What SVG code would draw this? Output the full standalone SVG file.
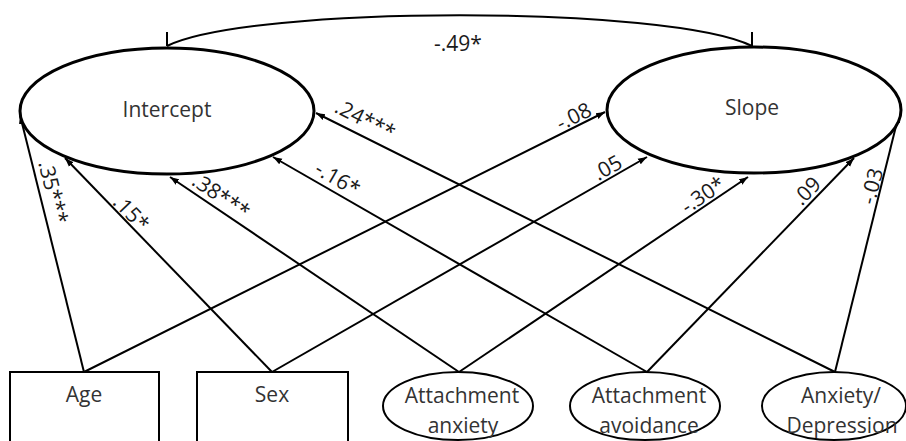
<svg xmlns="http://www.w3.org/2000/svg" width="906" height="441" viewBox="0 0 906 441">
<defs>
<marker id="ah" markerWidth="10" markerHeight="8" refX="9" refY="4" orient="auto" markerUnits="userSpaceOnUse">
<path d="M0,0.8 L9,4 L0,7.2 Z" fill="#000"/>
</marker>
<style>
.lat{fill:#fff;stroke:#000;stroke-width:3}
.obs{fill:#fff;stroke:#000;stroke-width:2}
.nt{font-family:"Open Sans","DejaVu Sans",sans-serif;font-size:21px;fill:#333;text-anchor:middle}
.lb{font-family:"Open Sans","DejaVu Sans",sans-serif;font-size:21px;fill:#1a1a1a;text-anchor:middle}
.c{fill:none;stroke:#000;stroke-width:2}
</style>
</defs>
<rect width="906" height="441" fill="#fff"/>
<g id="connectors">
<path class="c" d="M84,372 L20,115" marker-end="url(#ah)"/>
<path class="c" d="M84,372 L605,112" marker-end="url(#ah)"/>
<path class="c" d="M272,372 L65,158" marker-end="url(#ah)"/>
<path class="c" d="M272,372 L647,157" marker-end="url(#ah)"/>
<path class="c" d="M459,372 L170,177" marker-end="url(#ah)"/>
<path class="c" d="M459,372 L748,177" marker-end="url(#ah)"/>
<path class="c" d="M647,372 L273,157" marker-end="url(#ah)"/>
<path class="c" d="M647,372 L854,158" marker-end="url(#ah)"/>
<path class="c" d="M835,372 L316,113" marker-end="url(#ah)"/>
<path class="c" d="M835,372 L899,114" marker-end="url(#ah)"/>
<path class="c" d="M167,46 C250,5 670,5 752,46"/>
<path class="c" d="M167,32 L167,46"/>
<path class="c" d="M752,32 L752,46"/>
<text class="lb" x="458" y="51">-.49*</text>
<text class="lb" transform="translate(46,194) rotate(76)">.35***</text>
<text class="lb" transform="translate(126,218) rotate(46)">.15*</text>
<text class="lb" transform="translate(217,202) rotate(34)">.38***</text>
<text class="lb" transform="translate(334,185) rotate(30)">-.16*</text>
<text class="lb" transform="translate(362,126) rotate(26.7)">.24***</text>
<text class="lb" transform="translate(577,123) rotate(-26.5)">-.08</text>
<text class="lb" transform="translate(611,174) rotate(-29.8)">.05</text>
<text class="lb" transform="translate(707,201) rotate(-34)">-.30*</text>
<text class="lb" transform="translate(812,196) rotate(-45.8)">.09</text>
<text class="lb" transform="translate(879,188) rotate(-76)">-.03</text>
</g>
<g id="intercept">
<ellipse class="lat" cx="167" cy="111" rx="147" ry="63"/>
<text class="nt" x="167" y="117">Intercept</text>
</g>
<g id="slope">
<ellipse class="lat" cx="754" cy="110" rx="147" ry="63"/>
<text class="nt" x="752" y="115">Slope</text>
</g>
<g id="age">
<rect class="obs" x="10" y="372" width="149" height="80"/>
<text class="nt" x="84" y="402">Age</text>
</g>
<g id="sex">
<rect class="obs" x="197" y="372" width="151" height="80"/>
<text class="nt" x="272" y="402">Sex</text>
</g>
<g id="attachment-anxiety">
<ellipse class="obs" cx="458" cy="406" rx="75" ry="34"/>
<text class="nt" x="462" y="403">Attachment</text>
<text class="nt" x="463" y="433">anxiety</text>
</g>
<g id="attachment-avoidance">
<ellipse class="obs" cx="645" cy="406" rx="75" ry="34"/>
<text class="nt" x="649" y="403">Attachment</text>
<text class="nt" x="649" y="433">avoidance</text>
</g>
<g id="anxiety-depression">
<ellipse class="obs" cx="834" cy="406" rx="72" ry="34"/>
<text class="nt" x="841" y="403">Anxiety/</text>
<text class="nt" x="842" y="433">Depression</text>
</g>
</svg>
